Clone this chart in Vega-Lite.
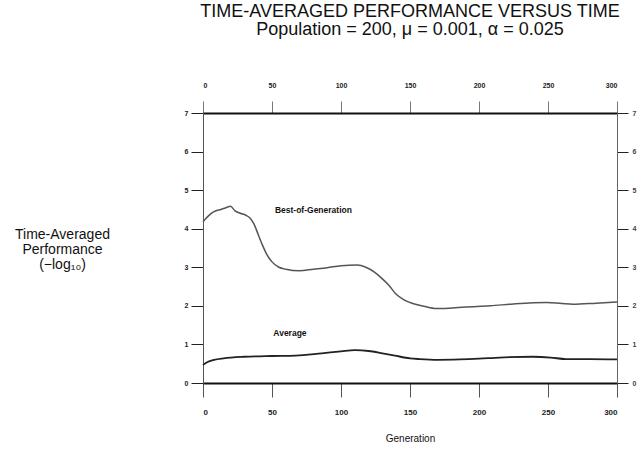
{
  "$schema": "https://vega.github.io/schema/vega-lite/v6.json",
  "width": 414,
  "height": 270,
  "autosize": "none",
  "padding": {"left": 203, "top": 113, "right": 20, "bottom": 68},
  "background": "white",
  "config": {"view": {"stroke": null}, "font": "Liberation Sans"},
  "title": {
    "text": ["TIME-AVERAGED PERFORMANCE VERSUS TIME", "Population = 200, μ = 0.001, α = 0.025"],
    "fontSize": 18,
    "fontWeight": "normal",
    "font": "Liberation Sans",
    "lineHeight": 18.5,
    "anchor": "middle",
    "color": "#111",
    "offset": 42
  },
  "datasets": {
    "curves": [
      {"series": "Best", "gen": 0, "value": 4.18},
      {"series": "Best", "gen": 3, "value": 4.3},
      {"series": "Best", "gen": 6, "value": 4.4},
      {"series": "Best", "gen": 9, "value": 4.46},
      {"series": "Best", "gen": 13, "value": 4.5},
      {"series": "Best", "gen": 17, "value": 4.55},
      {"series": "Best", "gen": 20, "value": 4.58},
      {"series": "Best", "gen": 23, "value": 4.47},
      {"series": "Best", "gen": 27, "value": 4.4},
      {"series": "Best", "gen": 31, "value": 4.35},
      {"series": "Best", "gen": 34, "value": 4.28},
      {"series": "Best", "gen": 37, "value": 4.12},
      {"series": "Best", "gen": 40, "value": 3.85},
      {"series": "Best", "gen": 43, "value": 3.58},
      {"series": "Best", "gen": 46, "value": 3.35},
      {"series": "Best", "gen": 50, "value": 3.14},
      {"series": "Best", "gen": 55, "value": 3.0},
      {"series": "Best", "gen": 60, "value": 2.95},
      {"series": "Best", "gen": 70, "value": 2.91},
      {"series": "Best", "gen": 80, "value": 2.95},
      {"series": "Best", "gen": 90, "value": 2.99},
      {"series": "Best", "gen": 100, "value": 3.04},
      {"series": "Best", "gen": 112, "value": 3.06},
      {"series": "Best", "gen": 118, "value": 3.0},
      {"series": "Best", "gen": 124, "value": 2.88},
      {"series": "Best", "gen": 130, "value": 2.7},
      {"series": "Best", "gen": 135, "value": 2.52},
      {"series": "Best", "gen": 140, "value": 2.3},
      {"series": "Best", "gen": 145, "value": 2.17},
      {"series": "Best", "gen": 152, "value": 2.06},
      {"series": "Best", "gen": 160, "value": 1.99},
      {"series": "Best", "gen": 169, "value": 1.93},
      {"series": "Best", "gen": 178, "value": 1.94},
      {"series": "Best", "gen": 190, "value": 1.97},
      {"series": "Best", "gen": 208, "value": 2.0},
      {"series": "Best", "gen": 225, "value": 2.05},
      {"series": "Best", "gen": 249, "value": 2.09},
      {"series": "Best", "gen": 260, "value": 2.06},
      {"series": "Best", "gen": 268, "value": 2.04},
      {"series": "Best", "gen": 285, "value": 2.07},
      {"series": "Best", "gen": 300, "value": 2.1},
      {"series": "Average", "gen": 0, "value": 0.47},
      {"series": "Average", "gen": 3, "value": 0.54},
      {"series": "Average", "gen": 8, "value": 0.6},
      {"series": "Average", "gen": 15, "value": 0.64},
      {"series": "Average", "gen": 30, "value": 0.68},
      {"series": "Average", "gen": 50, "value": 0.7},
      {"series": "Average", "gen": 67, "value": 0.71},
      {"series": "Average", "gen": 86, "value": 0.77},
      {"series": "Average", "gen": 100, "value": 0.82},
      {"series": "Average", "gen": 110, "value": 0.85},
      {"series": "Average", "gen": 120, "value": 0.83},
      {"series": "Average", "gen": 130, "value": 0.77},
      {"series": "Average", "gen": 139, "value": 0.71},
      {"series": "Average", "gen": 150, "value": 0.64},
      {"series": "Average", "gen": 157, "value": 0.62},
      {"series": "Average", "gen": 170, "value": 0.6},
      {"series": "Average", "gen": 186, "value": 0.61},
      {"series": "Average", "gen": 200, "value": 0.63},
      {"series": "Average", "gen": 215, "value": 0.66},
      {"series": "Average", "gen": 239, "value": 0.68},
      {"series": "Average", "gen": 252, "value": 0.66},
      {"series": "Average", "gen": 263, "value": 0.62},
      {"series": "Average", "gen": 280, "value": 0.62},
      {"series": "Average", "gen": 300, "value": 0.61}
    ],
    "labels": [
      {"label": "Best-of-Generation", "gen": 80, "value": 4.48},
      {"label": "Average", "gen": 63, "value": 1.3}
    ]
  },
  "resolve": {"axis": {"x": "independent", "y": "independent"}},
  "layer": [
    {
      "data": {"name": "curves"},
      "transform": [{"filter": "datum.series === 'Best'"}],
      "mark": {"type": "line", "interpolate": "monotone", "color": "#555", "strokeWidth": 1.5},
      "encoding": {
        "x": {
          "field": "gen", "type": "quantitative",
          "scale": {"domain": [0, 300], "nice": false, "zero": false},
          "axis": {
            "orient": "bottom", "values": [0, 50, 100, 150, 200, 250, 300], "grid": false,
            "title": "Generation", "titleFontSize": 10, "titleFontWeight": "normal", "titleColor": "#111", "titlePadding": 17,
            "labelFontSize": 8, "labelFontWeight": "bold", "labelColor": "#222", "labelPadding": 11,
            "tickSize": 14, "tickColor": "#555", "tickWidth": 1,
            "domainColor": "#111", "domainWidth": 2
          }
        },
        "y": {
          "field": "value", "type": "quantitative",
          "scale": {"domain": [0, 7], "nice": false, "zero": false},
          "axis": {
            "orient": "left", "values": [0, 1, 2, 3, 4, 5, 6, 7], "grid": false,
            "title": ["Time-Averaged", "Performance", "(−log₁₀)"],
            "titleAngle": 0, "titleAlign": "center", "titleBaseline": "alphabetic",
            "titleX": -141, "titleY": 125, "titleLineHeight": 15,
            "titleFontSize": 14, "titleFontWeight": "normal", "titleColor": "#111",
            "labelFontSize": 7, "labelFontWeight": "bold", "labelColor": "#222", "labelPadding": 3,
            "tickSize": 12, "tickColor": "#222", "tickWidth": 1,
            "domainColor": "#555", "domainWidth": 1
          }
        }
      }
    },
    {
      "data": {"name": "curves"},
      "transform": [{"filter": "datum.series === 'Average'"}],
      "mark": {"type": "line", "interpolate": "monotone", "color": "#222", "strokeWidth": 1.8},
      "encoding": {
        "x": {
          "field": "gen", "type": "quantitative",
          "axis": {
            "orient": "top", "values": [0, 50, 100, 150, 200, 250, 300], "grid": false, "title": null,
            "labelFontSize": 7, "labelFontWeight": "bold", "labelColor": "#222", "labelPadding": 13,
            "tickSize": 12, "tickColor": "#777", "tickWidth": 1,
            "domainColor": "#111", "domainWidth": 2
          }
        },
        "y": {
          "field": "value", "type": "quantitative",
          "axis": {
            "orient": "right", "values": [0, 1, 2, 3, 4, 5, 6, 7], "grid": false, "title": null,
            "labelFontSize": 7, "labelFontWeight": "bold", "labelColor": "#444", "labelPadding": 4,
            "tickSize": 11, "tickColor": "#222", "tickWidth": 1,
            "domainColor": "#666", "domainWidth": 1
          }
        }
      }
    },
    {
      "data": {"name": "labels"},
      "mark": {"type": "text", "fontSize": 8.5, "fontWeight": "bold", "color": "#111", "align": "center", "baseline": "middle"},
      "encoding": {
        "x": {"field": "gen", "type": "quantitative", "axis": null},
        "y": {"field": "value", "type": "quantitative", "axis": null},
        "text": {"field": "label"}
      }
    }
  ]
}
